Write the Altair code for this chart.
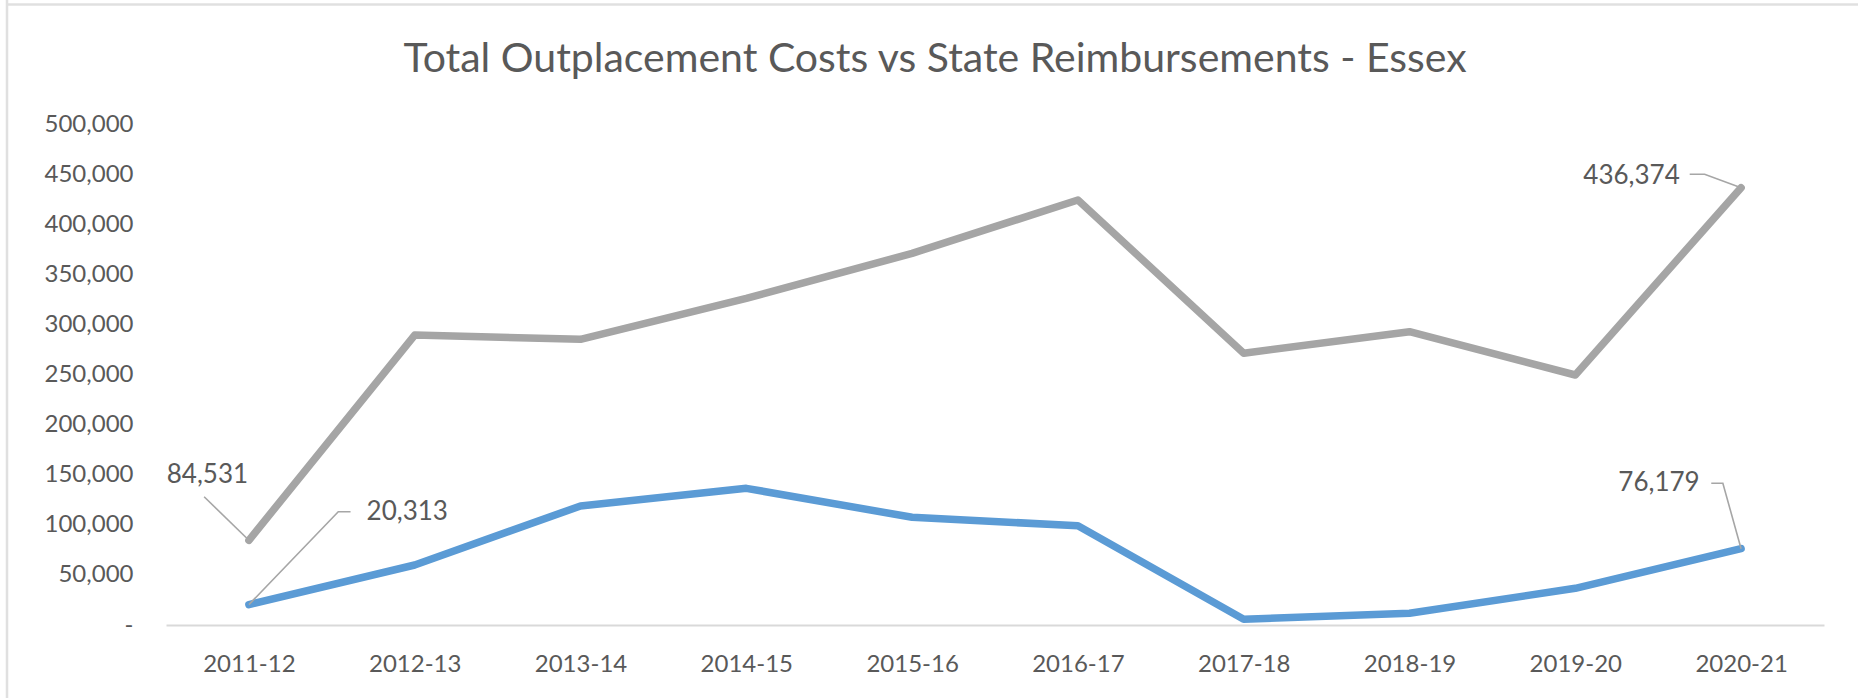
import altair as alt
import pandas as pd

# ---- data ----
years = ["2011-12", "2012-13", "2013-14", "2014-15", "2015-16",
         "2016-17", "2017-18", "2018-19", "2019-20", "2020-21"]
total_costs = [84531, 289400, 285100, 326000, 370900, 424100, 271200, 292700, 249500, 436374]
reimbursements = [20313, 59900, 118800, 136400, 107500, 99000, 5700, 11700, 36600, 76179]
y_ticks = [0, 50000, 100000, 150000, 200000, 250000, 300000, 350000, 400000, 450000, 500000]

series_names = ["Total Outplacement Costs", "State Reimbursements"]
series_colors = ["#a5a5a5", "#5b9bd5"]

# data-label annotations (positions in data units, leader path points)
ann_ids = ["tc_first", "sr_first", "tc_last", "sr_last"]
ann_values = [total_costs[0], reimbursements[0], total_costs[-1], reimbursements[-1]]
ann_label_x = [-0.25, 0.71, 8.63, 8.75]
ann_label_y = [149700, 112500, 448500, 141500]
ann_align = ["center", "left", "right", "right"]
leader_x = [[0, -0.27], [0, 0.539, 0.613], [9, 8.78, 8.69], [9, 8.89, 8.82]]
leader_y = [[84531, 128000], [20313, 113000, 113000], [436374, 449800, 449800], [76179, 141400, 141400]]

TEXT = "#595959"
FONT = "Lato"

rows = []
for i, yr in enumerate(years):
    rows.append({"idx": i, "year": yr, "series": series_names[0], "value": total_costs[i]})
    rows.append({"idx": i, "year": yr, "series": series_names[1], "value": reimbursements[i]})
df = pd.DataFrame(rows)

lrows = []
for aid, xs, ys in zip(ann_ids, leader_x, leader_y):
    for s, (lx, ly) in enumerate(zip(xs, ys)):
        lrows.append({"id": aid, "step": s, "idx": lx, "value": ly})
leader_df = pd.DataFrame(lrows)

label_df = pd.DataFrame({
    "id": ann_ids,
    "idx": ann_label_x,
    "value": ann_label_y,
    "text": [f"{v:,}" for v in ann_values],
    "align": ann_align,
})

x_scale = alt.Scale(domain=[-0.5, 9.5], nice=False, zero=False)
y_scale = alt.Scale(domain=[0, 500000], nice=False)

label_expr = "[" + ",".join(f"'{y}'" for y in years) + "][datum.value]"

x_axis = alt.Axis(values=list(range(len(years))), labelExpr=label_expr, ticks=False, tickSize=0,
                  grid=False, domain=True, domainColor="#d9d9d9", domainWidth=2,
                  labelPadding=27, labelFont=FONT, labelFontSize=24, labelColor=TEXT,
                  labelOverlap=False, labelFlush=False, title=None)
y_axis = alt.Axis(values=y_ticks, labelExpr="datum.value == 0 ? '-\u2007' : format(datum.value, ',')",
                  ticks=False, tickSize=0, grid=False, domain=False, labelPadding=33,
                  labelFont=FONT, labelFontSize=24, labelColor=TEXT, labelOverlap=False,
                  labelFlush=False, title=None)

lines = alt.Chart(df).mark_line(strokeWidth=7.5, strokeJoin="round", strokeCap="round").encode(
    x=alt.X("idx:Q", scale=x_scale, axis=x_axis),
    y=alt.Y("value:Q", scale=y_scale, axis=y_axis),
    color=alt.Color("series:N", scale=alt.Scale(domain=series_names, range=series_colors), legend=None),
    order="idx:Q",
)

leaders = alt.Chart(leader_df).mark_line(color="#a6a6a6", strokeWidth=1.6).encode(
    x="idx:Q", y="value:Q", detail="id:N", order="step:Q"
)

label_layers = []
for al in ["center", "left", "right"]:
    label_layers.append(
        alt.Chart(label_df[label_df["align"] == al]).mark_text(
            align=al, baseline="middle", font=FONT, fontSize=26, color=TEXT
        ).encode(x="idx:Q", y="value:Q", text="text:N")
    )

one = pd.DataFrame({"k": [0]})
frame_left = alt.Chart(one).mark_rule(color="#e0e0e0", strokeWidth=2.5).encode(
    x=alt.value(-159), y=alt.value(-124), y2=alt.value(574))
frame_top = alt.Chart(one).mark_rule(color="#e0e0e0", strokeWidth=2.5).encode(
    x=alt.value(-160), x2=alt.value(1692), y=alt.value(-119.5))

chart = alt.layer(frame_left, frame_top, lines, leaders, *label_layers).properties(
    width=1658, height=501,
    background="white",
    autosize=alt.AutoSizeParams(type="none"),
    padding={"left": 166, "top": 124, "right": 34, "bottom": 73},
    title=alt.TitleParams(text="Total Outplacement Costs vs State Reimbursements - Essex",
                          font=FONT, fontSize=41, fontWeight="normal", color=TEXT,
                          anchor="middle", dx=-60, dy=153, offset=30, baseline="bottom"),
).configure_view(strokeWidth=0, stroke="transparent")

chart.save("out.html", embed_options={"renderer": "svg", "actions": False})
